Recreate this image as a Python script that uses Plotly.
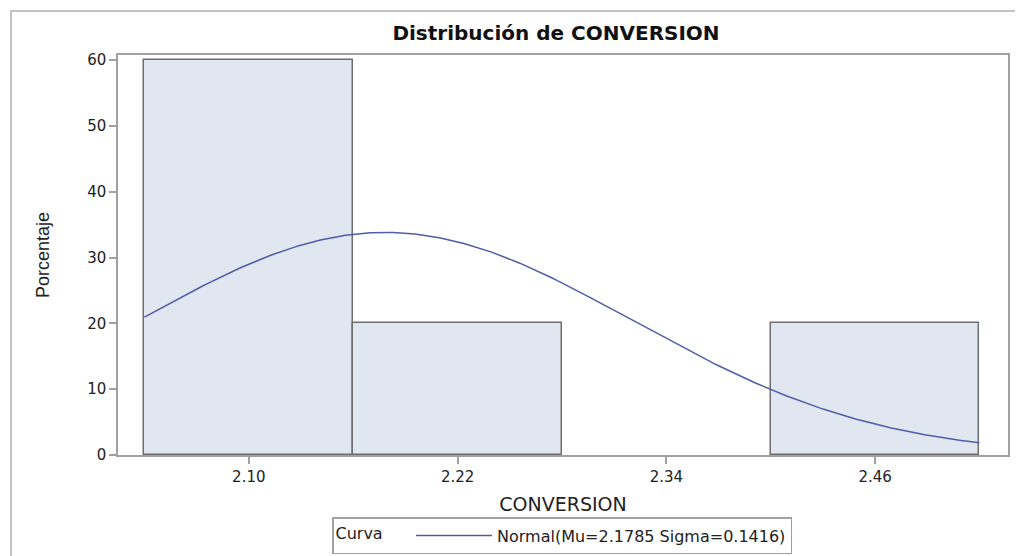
import numpy as np
import plotly.graph_objects as go

# ---- data ----
bin_midpoints = [2.10, 2.22, 2.34, 2.46]
percentages = [60, 20, 0, 20]
bin_width = 0.12
x_tick_labels = ["2.10", "2.22", "2.34", "2.46"]
y_tick_values = [0, 10, 20, 30, 40, 50, 60]
mu = 2.1785
sigma = 0.1416
legend_label = "Normal(Mu=2.1785 Sigma=0.1416)"

# fitted normal density, scaled to percent per bin
x_lo = bin_midpoints[0] - bin_width / 2
x_hi = bin_midpoints[-1] + bin_width / 2
xc = np.linspace(x_lo, x_hi, 300)
yc = 100 * bin_width * np.exp(-0.5 * ((xc - mu) / sigma) ** 2) / (sigma * np.sqrt(2 * np.pi))

# page body has an 8px default margin; figure is sized to fill the rest
W, H = 1015, 548
L, T, R, B = 110, 47, 15, 101

fig = go.Figure()
fig.add_trace(go.Bar(
    x=bin_midpoints, y=percentages, width=bin_width,
    marker=dict(color="#E1E7F0",
                line=dict(color="#6E6E6E", width=[1.5 if p > 0 else 0 for p in percentages])),
    showlegend=False,
))
fig.add_trace(go.Scatter(
    x=xc, y=yc, mode="lines", name=legend_label,
    line=dict(color="#4F5DA6", width=1.5),
))

axis_common = dict(showline=True, linecolor="#A0A0A0", linewidth=1.5, mirror=True,
                   ticks="outside", tickcolor="#A0A0A0", ticklen=7, tickwidth=1.5,
                   showgrid=False, zeroline=False)

fig.update_layout(
    width=W, height=H,
    paper_bgcolor="white", plot_bgcolor="white",
    margin=dict(l=L, r=R, t=T, b=B, autoexpand=False),
    font=dict(family="DejaVu Sans", color="#222222"),
    title=dict(text="<b>Distribución de CONVERSION</b>", x=(548 - 110) / 890, xref="paper",
               xanchor="center", y=1 - 25 / H, yanchor="middle",
               font=dict(family="DejaVu Sans", size=20, color="#111111")),
    xaxis=dict(range=[2.0248, 2.5364], tickvals=bin_midpoints, ticktext=x_tick_labels,
               tickfont=dict(size=15), title=dict(text="CONVERSION", font=dict(size=19), standoff=13),
               **axis_common),
    yaxis=dict(range=[0, 60.76], tickvals=y_tick_values, tickfont=dict(size=15),
               title=dict(text="Porcentaje", font=dict(family="Liberation Sans", size=18), standoff=33),
               **axis_common),
    bargap=0,
    showlegend=True,
    legend=dict(orientation="h", x=(554 - 110) / 890, xanchor="center", y=-0.155, yanchor="top",
                bordercolor="#A0A0A0", borderwidth=1.5, bgcolor="white",
                font=dict(size=16, color="#222222"),
                title=dict(text="Curva    ", side="left", font=dict(size=16)),
                itemwidth=76, tracegroupgap=0),
    shapes=[dict(type="rect", xref="paper", yref="paper",
                 x0=(3 - L) / 890, x1=1.2, y0=-0.5, y1=(447 - 3) / 400,
                 line=dict(color="#B0B0B0", width=1.5), fillcolor="rgba(0,0,0,0)", layer="below")],
)

fig.write_html("out.html")
